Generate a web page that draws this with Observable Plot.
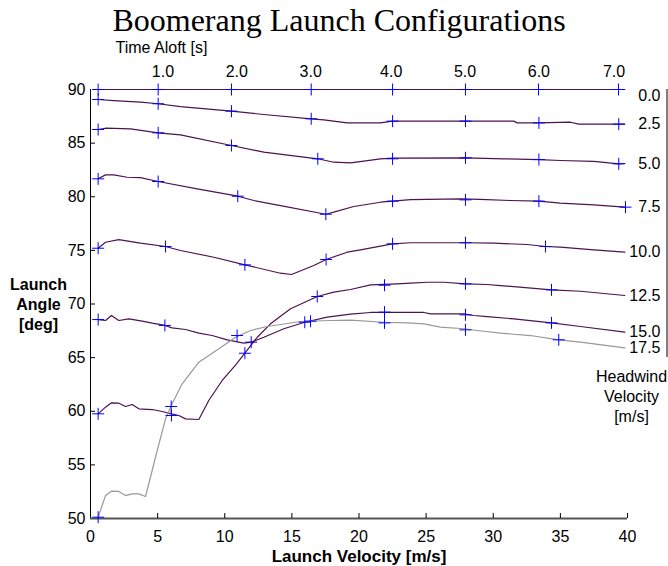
<!DOCTYPE html>
<html><head><meta charset="utf-8">
<script src="https://cdn.jsdelivr.net/npm/d3@7"></script>
<script src="https://cdn.jsdelivr.net/npm/@observablehq/plot@0.6"></script>
<style>
body{margin:0;background:#fff}
#chart svg{display:block}
</style>
</head><body><div id="chart"></div>
<script>
// ---- data (launch velocity [m/s], launch angle [deg]) ----
const headwindLabels = ["0.0","2.5","5.0","7.5","10.0","12.5","15.0","17.5"];

const curve00 = [[0.57,90],[39.8,90]];
const curve25 = [[0.57,89.07],[1.74,88.97],[3.72,88.82],[5.04,88.67],[6.7,88.41],[10.5,87.98],[12.9,87.67],[16.44,87.27],[17.38,87.17],[19.12,86.89],[21.6,86.89],[22.5,87.05],[27.93,87.05],[31.53,87.05],[31.78,86.89],[33.4,86.89],[35.75,86.95],[36.37,86.77],[39.8,86.77]];
const curve50 = [[0.57,86.27],[1.12,86.39],[2.98,86.33],[5.04,85.96],[6.7,85.77],[10.5,84.78],[12.91,84.16],[16.93,83.54],[18.12,83.22],[19.37,83.16],[20.36,83.32],[21.6,83.54],[22.5,83.6],[27.93,83.63],[30.79,83.54],[33.4,83.47],[35.0,83.38],[37.49,83.29],[39.35,83.07],[39.8,83.1]];
const curve75 = [[0.57,81.67],[1.12,82.04],[1.74,82.04],[2.73,81.82],[3.72,81.79],[5.04,81.42],[7.95,80.74],[10.97,80.05],[12.17,79.65],[14.15,79.18],[17.53,78.37],[18.12,78.56],[19.61,79.09],[21.6,79.49],[22.5,79.59],[23.84,79.74],[27.56,79.8],[29.0,79.75],[31.28,79.65],[33.4,79.59],[35.0,79.4],[37.49,79.25],[39.8,79.03]];
const curve100 = [[0.57,75.2],[1.12,75.76],[2.11,76.01],[3.72,75.67],[5.59,75.36],[6.7,74.99],[9.19,74.36],[11.5,73.65],[14.15,72.87],[14.97,72.75],[16.63,73.59],[17.55,74.15],[19.12,74.83],[20.11,75.05],[22.5,75.61],[23.84,75.71],[27.93,75.71],[30.04,75.67],[32.53,75.55],[33.89,75.36],[35.0,75.3],[37.49,75.05],[39.8,74.83]];
const curve125 = [[0.57,59.76],[1.12,60.38],[1.56,60.79],[2.11,60.75],[2.61,60.44],[3.1,60.63],[3.6,60.23],[4.6,60.16],[5.34,59.98],[6.03,59.76],[6.58,59.6],[7.08,59.29],[8.07,59.23],[8.81,61.0],[9.81,62.87],[10.8,64.3],[11.5,65.41],[12.42,66.9],[13.41,68.15],[14.9,69.55],[16.89,70.7],[18.12,71.1],[19.37,71.35],[20.86,71.79],[22.84,71.88],[23.84,71.94],[25.08,72.03],[26.32,72.03],[27.93,71.88],[29.55,71.82],[30.54,71.72],[34.34,71.32],[36.5,71.19],[39.8,70.79]];
const curve150 = [[0.57,68.55],[1.12,68.46],[1.56,68.93],[2.11,68.46],[2.86,68.62],[3.85,68.4],[4.6,68.21],[5.54,68.0],[6.08,67.78],[7.08,67.62],[8.07,67.28],[9.06,67.06],[10.18,66.66],[11.42,66.35],[11.97,66.44],[12.91,66.9],[14.4,67.69],[15.96,68.3],[17.63,68.77],[19.37,69.05],[20.86,69.21],[24.83,69.21],[25.33,69.08],[27.81,69.08],[28.55,68.93],[29.55,68.83],[31.53,68.62],[34.34,68.24],[36.5,67.9],[39.8,67.37]];
const curve175 = [[0.57,50.12],[1.12,52.14],[1.56,52.55],[2.11,52.52],[2.61,52.14],[3.1,52.3],[3.6,52.3],[4.1,52.05],[4.97,56.34],[5.59,59.29],[6.08,60.69],[6.83,62.56],[8.07,64.58],[9.56,65.82],[10.8,66.9],[11.92,67.53],[13.16,67.9],[15.64,68.37],[17.88,68.46],[19.37,68.5],[21.85,68.3],[23.59,68.24],[24.83,68.15],[26.07,67.84],[27.81,67.69],[28.8,67.53],[30.54,67.28],[32.77,67.06],[34.88,66.66],[36.5,66.44],[39.8,65.91]];

// time-aloft markers on each curve (every 1 s)
const marks00 = [[0.57,90],[5.04,90],[10.5,90],[16.44,90],[22.5,90],[27.93,90],[33.37,90],[39.33,90]];
const marks25 = [[0.57,89.07],[5.04,88.67],[10.5,87.98],[16.44,87.27],[22.5,87.05],[27.93,87.05],[33.4,86.89],[39.35,86.77]];
const marks50 = [[0.57,86.27],[5.04,85.96],[10.5,84.78],[16.93,83.54],[22.5,83.54],[27.93,83.63],[33.4,83.47],[39.35,83.07]];
const marks75 = [[0.57,81.67],[5.04,81.42],[10.97,80.05],[17.53,78.37],[22.5,79.59],[27.93,79.71],[33.4,79.59],[39.85,79.03]];
const marks100 = [[0.57,75.2],[5.59,75.36],[11.5,73.65],[17.55,74.15],[22.5,75.61],[27.93,75.71],[33.89,75.36]];
const marks125 = [[0.57,59.76],[6.03,59.6],[11.5,65.41],[16.89,70.7],[21.9,71.75],[27.93,71.88],[34.34,71.32]];
const marks150 = [[0.57,68.55],[5.54,68.0],[11.97,66.44],[15.96,68.3],[21.9,69.24],[27.93,68.99],[34.34,68.24]];
const marks175 = [[0.57,50.12],[6.01,60.44],[10.92,67.06],[16.39,68.4],[21.9,68.24],[27.93,67.59],[34.88,66.66]];

// top axis: time aloft labels placed at launch velocity of the 0.0 headwind markers
const timeAloftLabels = ["1.0","2.0","3.0","4.0","5.0","6.0","7.0"];
const timeAloftVelocity = [5.4, 10.9, 16.4, 22.4, 27.9, 33.4, 39.0];

const xTicks = [0,5,10,15,20,25,30,35,40];
const yTicks = [50,55,60,65,70,75,80,85,90];

// ---- build tables ----
const curves = [curve00, curve25, curve50, curve75, curve100, curve125, curve150, curve175];
const markers = [marks00, marks25, marks50, marks75, marks100, marks125, marks150, marks175];
const lineRows = curves.flatMap((c, i) => c.map(([v, a]) => ({wind: headwindLabels[i], gray: i === 7, v, a})));
const markRows = markers.flatMap((c, i) => c.map(([v, a]) => ({wind: headwindLabels[i], v, a})));
const endLabels = curves.map((c, i) => ({label: headwindLabels[i], a: Math.min(c[c.length - 1][1], 89.4)}));
const topTicks = timeAloftLabels.map((t, i) => ({t, v: timeAloftVelocity[i]}));

const plusSymbol = {draw(ctx, size) {const r = Math.sqrt(size / Math.PI); ctx.moveTo(-r, 0); ctx.lineTo(r, 0); ctx.moveTo(0, -r); ctx.lineTo(0, r);}};

const sans = "'Liberation Sans', Arial, Helvetica, sans-serif";
const serif = "'Liberation Serif', 'Times New Roman', serif";
const purple = "#4e1250";

const chart = Plot.plot({
  width: 668, height: 566,
  marginLeft: 90, marginRight: 41, marginTop: 89, marginBottom: 48,
  style: {fontFamily: sans, fontSize: "16px", color: "#000", background: "#fff", overflow: "visible"},
  x: {domain: [0, 40], axis: null},
  y: {domain: [50, 90], axis: null},
  marks: [
    // lines
    Plot.line(lineRows.filter(d => !d.gray), {x: "v", y: "a", z: "wind", stroke: purple, strokeWidth: 1.2}),
    Plot.line(lineRows.filter(d => d.gray), {x: "v", y: "a", z: "wind", stroke: "#999999", strokeWidth: 1.2}),
    // left axis
    Plot.ruleX([0], {stroke: "#000", strokeWidth: 1}),
    Plot.ruleY(yTicks.slice(1, -1), {stroke: "#000", insetRight: 532}),
    Plot.text(yTicks, {frameAnchor: "left", y: d => d, text: d => String(d), dx: -5, textAnchor: "end", lineAnchor: "middle", fontSize: 16}),
    // bottom axis
    Plot.ruleY([50], {stroke: "#555", strokeWidth: 2}),
    Plot.ruleX(xTicks.slice(1), {stroke: "#000", insetTop: 424}),
    Plot.text(xTicks, {frameAnchor: "bottom", x: d => d, text: d => String(d), dy: 18, lineAnchor: "middle", fontSize: 16}),
    Plot.text(["Launch Velocity [m/s]"], {frameAnchor: "bottom", dy: 38, lineAnchor: "middle", fontWeight: "bold", fontSize: 17}),
    Plot.text(["Launch\nAngle\n[deg]"], {frameAnchor: "left", dx: -52, textAnchor: "middle", lineAnchor: "middle", fontWeight: "bold", fontSize: 16, lineHeight: 1.25}),
    // top axis (time aloft)
    Plot.text(topTicks, {frameAnchor: "top", x: "v", text: "t", dy: -18, lineAnchor: "middle", fontSize: 16}),
    Plot.text(["Time Aloft [s]"], {frameAnchor: "top-left", dx: 25, dy: -42, textAnchor: "start", lineAnchor: "middle", fontSize: 16}),
    Plot.text(["Boomerang Launch Configurations"], {frameAnchor: "top", dx: -20, dy: -69, lineAnchor: "middle", fontFamily: serif, fontSize: 32}),
    // right (headwind) labels
    Plot.text(endLabels, {frameAnchor: "right", y: "a", text: "label", dx: 33, textAnchor: "end", lineAnchor: "middle", fontSize: 16}),
    Plot.ruleX([40], {dx: 39.5, y1: 90, y2: curve175[curve175.length - 1][1] - 0.9, stroke: "#000"}),
    Plot.text(["Headwind\nVelocity\n[m/s]"], {frameAnchor: "right", dx: 4, dy: 92, textAnchor: "middle", lineAnchor: "middle", fontSize: 16, lineHeight: 1.25}),
    // time-aloft markers
    Plot.dot(markRows, {x: "v", y: "a", symbol: plusSymbol, r: 6, stroke: "#0000ff", fill: "none", strokeWidth: 1})
  ]
});
document.getElementById("chart").appendChild(chart);
</script>
</body></html>
